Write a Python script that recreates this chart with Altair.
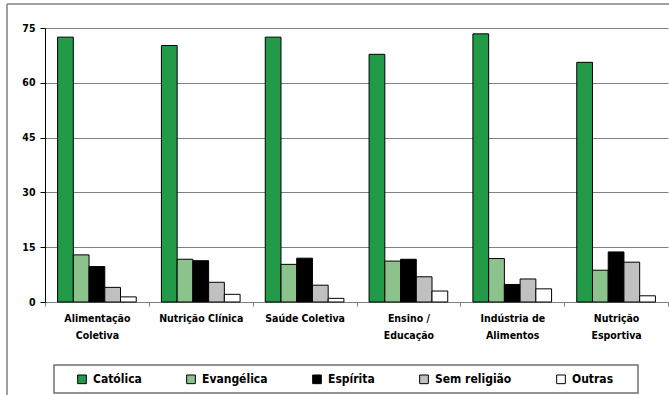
import altair as alt
import pandas as pd

# Course areas (line breaks mark where the axis labels wrap)
areas = [
    "Alimentação\nColetiva",
    "Nutrição Clínica",
    "Saúde Coletiva",
    "Ensino /\nEducação",
    "Indústria de\nAlimentos",
    "Nutrição\nEsportiva",
]
religions = ["Católica", "Evangélica", "Espírita", "Sem religião", "Outras"]
colors = ["#229A48", "#8CC28C", "#000000", "#C0C0C0", "#FFFFFF"]

# Percentage of respondents per religion in each area
catolica = [72.5, 70.2, 72.5, 67.8, 73.4, 65.6]
evangelica = [12.9, 11.7, 10.3, 11.2, 11.9, 8.7]
espirita = [9.7, 11.3, 12.0, 11.7, 4.8, 13.7]
sem_religiao = [4.0, 5.4, 4.6, 6.9, 6.3, 10.9]
outras = [1.4, 2.1, 1.0, 3.0, 3.6, 1.7]

series = [catolica, evangelica, espirita, sem_religiao, outras]
rows = []
for rel, vals in zip(religions, series):
    for area, v in zip(areas, vals):
        rows.append({"area": area, "religiao": rel, "valor": v})
df = pd.DataFrame(rows)

FONT = "DejaVu Sans Condensed"

bars = alt.Chart(df).mark_bar(stroke="#000000", strokeWidth=1).encode(
    x=alt.X(
        "area:N",
        sort=areas,
        scale=alt.Scale(paddingInner=0, paddingOuter=0),
        axis=alt.Axis(
            title=None,
            labelAngle=0,
            labelExpr="split(datum.label, '\\n')",
            labelLineHeight=17,
            labelFont=FONT,
            labelFontWeight="bold",
            labelFontSize=10.5,
            labelColor="#000000",
            labelPadding=7,
            tickBand="extent",
            tickSize=4,
            tickColor="#808080",
            domainColor="#808080",
            domainWidth=1.2,
        ),
    ),
    xOffset=alt.XOffset(
        "religiao:N",
        sort=religions,
        scale=alt.Scale(paddingInner=0, paddingOuter=0.8),
    ),
    y=alt.Y(
        "valor:Q",
        scale=alt.Scale(domain=[0, 75], nice=False),
        axis=alt.Axis(
            title=None,
            values=[0, 15, 30, 45, 60, 75],
            labelFont=FONT,
            labelFontWeight="bold",
            labelFontSize=10.5,
            labelColor="#000000",
            labelPadding=5,
            tickSize=5,
            tickColor="#000000",
            domainColor="#000000",
            grid=True,
            gridColor="#808080",
            gridWidth=1.2,
        ),
    ),
    color=alt.Color(
        "religiao:N",
        sort=religions,
        scale=alt.Scale(domain=religions, range=colors),
        legend=alt.Legend(
            title=None,
            orient="none",
            direction="horizontal",
            legendX=31,
            legendY=345,
            symbolType="square",
            symbolSize=75,
            symbolStrokeColor="#000000",
            symbolStrokeWidth=1,
            symbolOpacity=1,
            labelFont=FONT,
            labelFontWeight="bold",
            labelFontSize=12,
            labelColor="#000000",
            labelOffset=5,
            columnPadding=42,
            padding=0,
        ),
    ),
)

one = pd.DataFrame({"k": [0]})

# Frame around the legend entries
legend_box = alt.Chart(one).mark_rect(
    fill="transparent", stroke="#707070", strokeWidth=1.5
).encode(
    x=alt.value(9), x2=alt.value(593), y=alt.value(337), y2=alt.value(365)
)

# Outer chart border (left and top edges)
border_left = alt.Chart(one).mark_rule(color="#808080", strokeWidth=1.5).encode(
    x=alt.value(-38), y=alt.value(-24), y2=alt.value(400)
)
border_top = alt.Chart(one).mark_rule(color="#808080", strokeWidth=1.5).encode(
    x=alt.value(-38), x2=alt.value(700), y=alt.value(-24)
)

chart = (
    alt.layer(bars, legend_box, border_left, border_top)
    .properties(
        width=623,
        height=274,
        autosize=alt.AutoSizeParams(type="none"),
        padding={"left": 45, "top": 28, "right": 1, "bottom": 93},
        background="#FFFFFF",
    )
    .configure_view(stroke=None)
)

chart.save("out.html", embed_options={"renderer": "svg", "actions": False})
